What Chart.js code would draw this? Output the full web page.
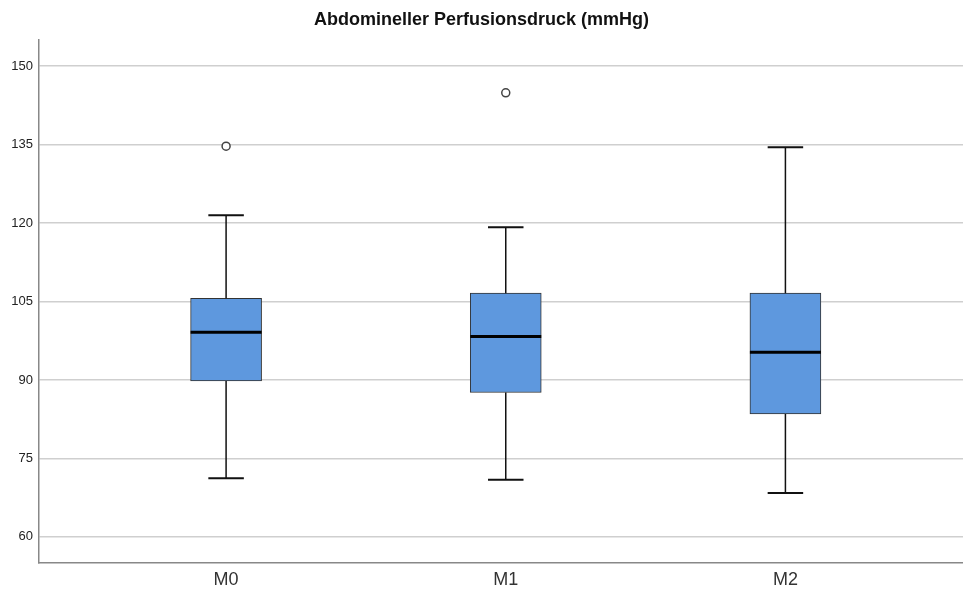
<!DOCTYPE html>
<html>
<head>
<meta charset="utf-8">
<script src="https://cdn.jsdelivr.net/npm/chart.js@4"></script>
<style>
  html, body { margin: 0; padding: 0; background: #fff; }
  #wrap { width: 963px; height: 590px; }
</style>
</head>
<body>
<div id="wrap"><canvas id="grafico"></canvas></div>
<script>
const categorias = ['M0', 'M1', 'M2'];
const minimos = [71.2, 70.9, 68.4];
const quartil1 = [89.8, 87.6, 83.5];
const medianas = [99.1, 98.3, 95.3];
const quartil3 = [105.6, 106.6, 106.6];
const maximos = [121.5, 119.2, 134.5];
const ausreisser = [[134.7], [144.9], []];
const yTicks = [60, 75, 90, 105, 120, 135, 150];

Chart.defaults.font.family = "'Liberation Sans', Arial, sans-serif";
Chart.defaults.color = '#222';

// whiskers, caps and median drawn from the box elements and the y scale
const boxplotPlugin = {
  id: 'boxplot',
  afterDatasetsDraw(chart) {
    const ctx = chart.ctx;
    const y = chart.scales.y;
    const meta = chart.getDatasetMeta(0);
    meta.data.forEach((bar, i) => {
      const cx = bar.x;
      const half = bar.width / 2;
      const capHalf = bar.width / 4;
      ctx.save();
      ctx.strokeStyle = '#111';
      ctx.lineWidth = 1.5;
      ctx.beginPath();
      ctx.moveTo(cx, y.getPixelForValue(quartil3[i]));
      ctx.lineTo(cx, y.getPixelForValue(maximos[i]));
      ctx.moveTo(cx, y.getPixelForValue(quartil1[i]));
      ctx.lineTo(cx, y.getPixelForValue(minimos[i]));
      ctx.stroke();
      ctx.lineWidth = 2;
      ctx.beginPath();
      ctx.moveTo(cx - capHalf, y.getPixelForValue(maximos[i]));
      ctx.lineTo(cx + capHalf, y.getPixelForValue(maximos[i]));
      ctx.moveTo(cx - capHalf, y.getPixelForValue(minimos[i]));
      ctx.lineTo(cx + capHalf, y.getPixelForValue(minimos[i]));
      ctx.stroke();
      ctx.strokeStyle = '#000';
      ctx.lineWidth = 3;
      ctx.beginPath();
      ctx.moveTo(cx - half, y.getPixelForValue(medianas[i]));
      ctx.lineTo(cx + half, y.getPixelForValue(medianas[i]));
      ctx.stroke();
      ctx.restore();
    });
  }
};

const pontosAusreisser = [];
ausreisser.forEach((lista, i) => lista.forEach(v => pontosAusreisser.push({ x: i, y: v })));

new Chart(document.getElementById('grafico'), {
  type: 'bar',
  data: {
    datasets: [
      {
        label: 'Box',
        data: categorias.map((c, i) => ({ x: i, y: [quartil1[i], quartil3[i]] })),
        backgroundColor: '#5e98de',
        borderColor: '#333',
        borderWidth: 1,
        borderSkipped: false,
        barThickness: 71,
        order: 2
      },
      {
        type: 'scatter',
        label: 'Ausreißer',
        data: pontosAusreisser,
        pointStyle: 'circle',
        pointRadius: 4,
        pointBackgroundColor: '#fff',
        pointBorderColor: '#444',
        pointBorderWidth: 1.5,
        order: 1
      }
    ]
  },
  options: {
    responsive: true,
    maintainAspectRatio: false,
    animation: false,
    layout: { padding: 0, autoPadding: false },
    plugins: {
      legend: { display: false },
      tooltip: { enabled: false },
      title: {
        display: true,
        text: 'Abdomineller Perfusionsdruck (mmHg)',
        font: { size: 18, weight: 'bold' },
        color: '#111',
        padding: { top: 9, bottom: 9.4 }
      }
    },
    scales: {
      x: {
        type: 'linear',
        offset: false,
        min: -0.669,
        max: 2.635,
        afterBuildTicks: s => { s.ticks = categorias.map((c, i) => ({ value: i })); },
        afterFit: s => { s.height = 27; s.paddingLeft = 0; s.paddingRight = 0; },
        grid: { display: false, drawTicks: false, offset: false },
        border: { display: true, color: '#888', width: 1.5 },
        ticks: {
          padding: 6,
          font: { size: 18 },
          color: '#333',
          maxRotation: 0,
          callback: v => categorias[v]
        }
      },
      y: {
        min: 55,
        max: 155,
        afterBuildTicks: s => { s.ticks = yTicks.map(v => ({ value: v })); },
        afterFit: s => { s.width = 39; },
        grid: { color: '#cfcfcf', lineWidth: 1.5, drawTicks: false },
        border: { display: true, color: '#888', width: 1.5 },
        ticks: { padding: 6, font: { size: 13 }, color: '#222' }
      }
    }
  },
  plugins: [boxplotPlugin]
});
</script>
</body>
</html>
